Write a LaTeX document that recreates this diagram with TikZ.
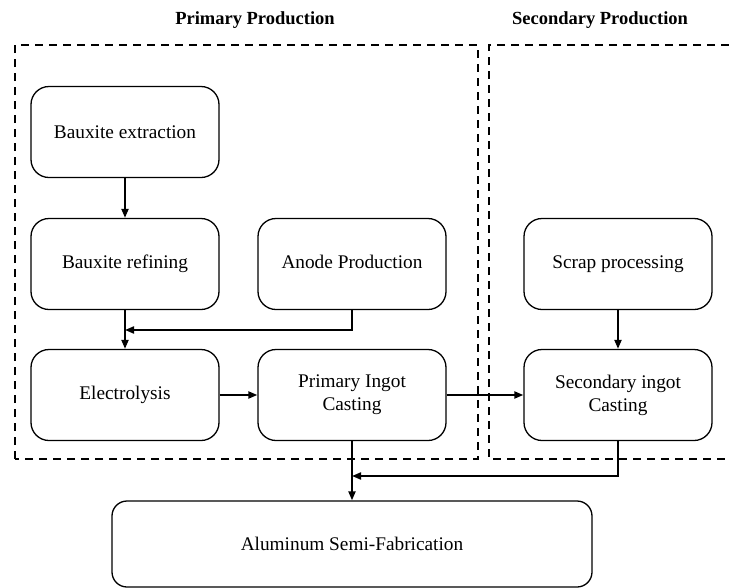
\documentclass[tikz,border=0pt]{standalone}
\usepackage{fontspec}
\setmainfont{Liberation Serif}
\usetikzlibrary{arrows.meta}
\begin{document}
\begin{tikzpicture}[x=1pt,y=-1pt,
  proc/.style={draw, line width=1.3pt, rounded corners=18pt, minimum width=188pt,
    minimum height=91pt, align=center, inner sep=0pt, font=\fontsize{19.3}{23}\selectfont},
  flow/.style={line width=2pt, -{Triangle[length=9pt,width=7pt]}},
  region/.style={line width=2.4pt, dash pattern=on 8pt off 6pt},
  title/.style={font=\fontsize{18.5}{22}\selectfont\bfseries}]
\useasboundingbox (0,0) rectangle (729,587);

% production regions
\draw[region] (15,459) -- (15,45) -- (478,45) -- (478,459) -- cycle;
\draw[region] (729,45) -- (489,45) -- (489,459) -- (729,459);
\node[title] (tprim) at (255,20) {Primary Production};
\node[title] (tsec) at (600,20) {Secondary Production};

% process steps
\node[proc] (extract) at (125,132) {Bauxite extraction};
\node[proc] (refine) at (125,264) {Bauxite refining\strut};
\node[proc] (anode) at (352,264) {Anode Production\strut};
\node[proc] (electro) at (125,395) {Electrolysis};
\node[proc] (pingot) at (352,395) {Primary Ingot\\Casting};
\node[proc] (scrap) at (618,264) {Scrap processing\strut};
\node[proc] (singot) at (618,395) {Secondary ingot\\Casting};
\node[proc, minimum width=480pt, minimum height=86pt, rounded corners=15pt] (semi) at (352,544) {Aluminum Semi-Fabrication};

% junctions
\coordinate (j1) at (125,330);
\coordinate (j2) at (352,476);

% flows
\draw[flow] (extract) -- (refine);
\draw[flow] (refine) -- (electro);
\draw[flow] (anode.south) |- (j1);
\draw[flow] (electro) -- (pingot);
\draw[flow] (pingot) -- (singot);
\draw[flow] (scrap) -- (singot);
\draw[flow] (pingot) -- (semi);
\draw[flow] (singot.south) |- (j2);
\end{tikzpicture}
\end{document}
